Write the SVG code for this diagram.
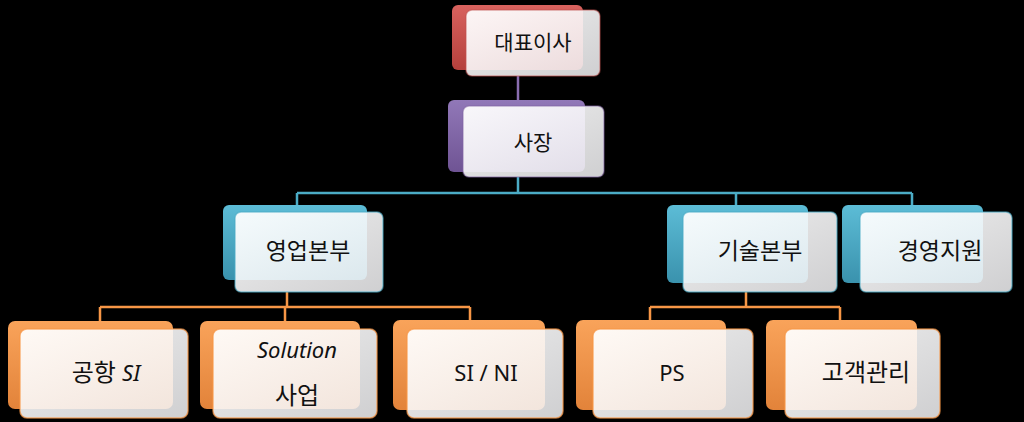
<svg xmlns="http://www.w3.org/2000/svg" width="1024" height="422" viewBox="0 0 1024 422">
<defs>
<linearGradient id="gRed" x1="0" y1="0" x2="0" y2="1"><stop offset="0" stop-color="#d8625e"/><stop offset="1" stop-color="#b5403c"/></linearGradient>
<linearGradient id="gPur" x1="0" y1="0" x2="0" y2="1"><stop offset="0" stop-color="#9178b8"/><stop offset="1" stop-color="#6f5494"/></linearGradient>
<linearGradient id="gTeal" x1="0" y1="0" x2="0" y2="1"><stop offset="0" stop-color="#5cbcd6"/><stop offset="1" stop-color="#3a92ad"/></linearGradient>
<linearGradient id="gOra" x1="0" y1="0" x2="0" y2="1"><stop offset="0" stop-color="#f9a35a"/><stop offset="1" stop-color="#e2833a"/></linearGradient>
<linearGradient id="gFront" x1="0" y1="0" x2="1" y2="1"><stop offset="0" stop-color="#ffffff" stop-opacity="0.94"/><stop offset="1" stop-color="#f4f4f6" stop-opacity="0.85"/></linearGradient>
</defs>
<style>
.bg{fill:#000}
.red{fill:url(#gRed)}
.pur{fill:url(#gPur)}
.teal{fill:url(#gTeal)}
.ora{fill:url(#gOra)}
.front{fill:url(#gFront);stroke-width:1.5}
.fr{stroke:#c0504d;stroke-opacity:.5}
.fp{stroke:#8064a2;stroke-opacity:.5}
.ft{stroke:#4bacc6;stroke-opacity:.6}
.fo{stroke:#f79646;stroke-opacity:.7}
.lbl{font-family:"Noto Sans","Noto Sans CJK KR",sans-serif;fill:#111;text-anchor:middle}
.k21{font-size:21px}
.k23{font-size:23px}
.k24{font-size:24px}
.l22{font-size:22px}
.it{font-style:italic}
.conn path{fill:none;stroke-width:2.5}
.cp{stroke:#8a6db0}
.ct{stroke:#4bacc6}
.co{stroke:#f79646}
</style>
<rect class="bg" x="0" y="0" width="1024" height="422"/>
<g class="conn" id="connectors">
<path class="cp" d="M518 76V100"/>
<path class="ct" d="M518 177V193M297 193H912M297 193V205M736 193V205M912 193V205"/>
<path class="co" d="M287 292V307M100 307H470M100 307V321M285 307V321M470 307V321"/>
<path class="co" d="M746 292V307M650 307H840M650 307V321M840 307V321"/>
</g>
<g id="n-ceo">
<rect class="red" x="452" y="5" width="131" height="65" rx="6"/>
<rect class="front fr" x="466" y="10" width="134" height="66" rx="6"/>
<text class="lbl k21" x="533" y="50">대표이사</text>
</g>
<g id="n-president">
<rect class="pur" x="448" y="100" width="137" height="72" rx="6"/>
<rect class="front fp" x="463" y="106" width="141" height="71" rx="6"/>
<text class="lbl k21" x="533" y="150">사장</text>
</g>
<g id="n-sales">
<rect class="teal" x="223" y="205" width="144" height="75" rx="6"/>
<rect class="front ft" x="235" y="212" width="148" height="80" rx="6"/>
<text class="lbl k23" x="308" y="259">영업본부</text>
</g>
<g id="n-tech">
<rect class="teal" x="667" y="205" width="141" height="78" rx="6"/>
<rect class="front ft" x="683" y="212" width="154" height="80" rx="6"/>
<text class="lbl k23" x="760" y="259">기술본부</text>
</g>
<g id="n-mgmt">
<rect class="teal" x="842" y="205" width="141" height="78" rx="6"/>
<rect class="front ft" x="860" y="212" width="152" height="80" rx="6"/>
<text class="lbl k23" x="940" y="259">경영지원</text>
</g>
<g id="n-airport">
<rect class="ora" x="8" y="321" width="165" height="88" rx="7"/>
<rect class="front fo" x="20" y="329" width="168" height="89" rx="7"/>
<text class="lbl k24" x="106" y="381">공항 <tspan class="it l22">SI</tspan></text>
</g>
<g id="n-solution">
<rect class="ora" x="200" y="321" width="160" height="88" rx="7"/>
<rect class="front fo" x="213" y="329" width="164" height="89" rx="7"/>
<text class="lbl l22 it" x="297" y="358">Solution</text>
<text class="lbl k24" x="297" y="404">사업</text>
</g>
<g id="n-sini">
<rect class="ora" x="393" y="320" width="152" height="90" rx="7"/>
<rect class="front fo" x="407" y="329" width="156" height="89" rx="7"/>
<text class="lbl l22" x="486" y="381">SI / NI</text>
</g>
<g id="n-ps">
<rect class="ora" x="576" y="320" width="150" height="90" rx="7"/>
<rect class="front fo" x="593" y="329" width="160" height="89" rx="7"/>
<text class="lbl l22" x="672" y="381">PS</text>
</g>
<g id="n-customer">
<rect class="ora" x="766" y="320" width="151" height="90" rx="7"/>
<rect class="front fo" x="785" y="329" width="155" height="89" rx="7"/>
<text class="lbl k24" x="866" y="381">고객관리</text>
</g>
</svg>
